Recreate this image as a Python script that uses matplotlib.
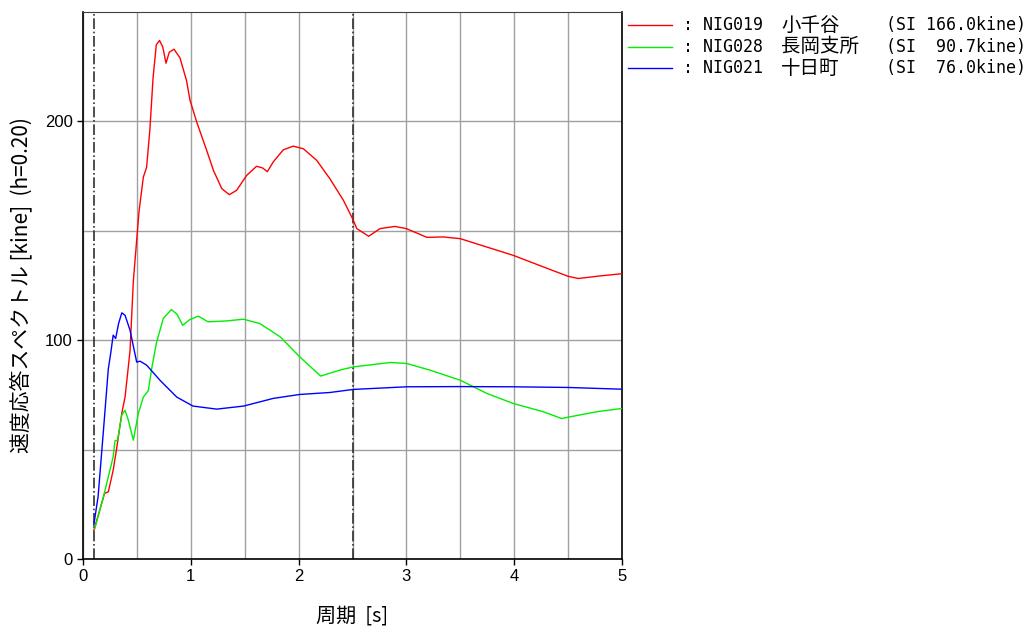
import matplotlib
matplotlib.use('Agg')
import matplotlib.pyplot as plt
from matplotlib.lines import Line2D

# velocity response spectra (h=0.20), period [s] vs Sv [kine]
red_x = [0.10, 0.20, 0.235, 0.28, 0.31, 0.36, 0.39, 0.436, 0.467, 0.52, 0.56, 0.59, 0.62,
         0.65, 0.68, 0.71, 0.74, 0.77, 0.80, 0.844, 0.90, 0.96, 0.993, 1.055, 1.147, 1.21,
         1.287, 1.357, 1.425, 1.518, 1.61, 1.667, 1.71, 1.765, 1.858, 1.95, 2.044, 2.168,
         2.29, 2.415, 2.50, 2.54, 2.65, 2.755, 2.894, 3.00, 3.19, 3.34, 3.50, 3.745, 3.99,
         4.27, 4.50, 4.595, 4.765, 5.00]
red_y = [13, 30, 30.7, 40.6, 49.8, 66.6, 74, 95, 127, 159, 174.6, 179, 196,
         220, 235, 237, 234, 226.6, 231.6, 233, 229, 218.7, 209.6, 199.7, 186.8, 177.6,
         169.3, 166.5, 168.5, 175.3, 179.5, 178.7, 177, 181.5, 187, 188.7, 187.5, 182.2,
         173.8, 164, 155.6, 151, 147.5, 151, 152, 151, 147, 147.2, 146.4, 142.6, 138.8,
         133.5, 129.2, 128.2, 129.2, 130.4]

green_x = [0.11, 0.19, 0.28, 0.297, 0.32, 0.36, 0.39, 0.42, 0.467, 0.513, 0.56, 0.606,
           0.637, 0.68, 0.745, 0.82, 0.87, 0.925, 0.99, 1.07, 1.16, 1.33, 1.49, 1.64,
           1.83, 2.01, 2.205, 2.38, 2.507, 2.85, 3.00, 3.22, 3.50, 3.745, 3.99, 4.27,
           4.44, 4.52, 4.765, 5.00]
green_y = [14, 28.5, 46.7, 54, 54.3, 65.8, 68, 63.5, 54.3, 66.5, 74, 77,
           87, 98.5, 110, 114, 112, 106.8, 109.4, 111, 108.4, 108.8, 109.6, 107.6,
           101.5, 92.4, 83.6, 86.3, 87.8, 89.8, 89.4, 86.3, 81.7, 75.7, 71.1, 67.3,
           64.2, 65, 67.3, 68.8]

blue_x = [0.10, 0.14, 0.19, 0.235, 0.257, 0.28, 0.303, 0.33, 0.36, 0.39, 0.436, 0.498,
          0.53, 0.59, 0.714, 0.87, 1.02, 1.24, 1.49, 1.765, 2.01, 2.29, 2.507, 3.00,
          3.50, 3.99, 4.50, 5.00]
blue_y = [15.5, 28.5, 59, 87, 94, 102.3, 100.8, 107.6, 112.5, 111.4, 104.6, 90,
          90.4, 88.6, 81.7, 74, 69.9, 68.5, 69.9, 73.4, 75.2, 76.1, 77.5, 78.7,
          78.8, 78.7, 78.4, 77.6]

codes = ['NIG019', 'NIG028', 'NIG021']
names = ['小千谷', '長岡支所', '十日町']
si_values = [166.0, 90.7, 76.0]
colors = ['#ff0000', '#00ee00', '#0000ff']

jp = ['Noto Sans CJK JP', 'DejaVu Sans']
mono = ['DejaVu Sans Mono', 'Noto Sans CJK JP']

fig = plt.figure(figsize=(10.26, 6.31), dpi=100)
ax = fig.add_axes([83 / 1026, 72 / 631, 539 / 1026, 547 / 631])

for xs, ys, c in zip([red_x, green_x, blue_x], [red_y, green_y, blue_y], colors):
    ax.plot(xs, ys, color=c, linewidth=1.0, zorder=3)

ax.set_xlim(0, 5)
ax.set_ylim(0, 250)
ax.set_xticks([0, 1, 2, 3, 4, 5])
ax.set_xticks([0.5, 1.5, 2.5, 3.5, 4.5], minor=True)
ax.set_yticks([0, 100, 200])
ax.set_yticks([50, 150], minor=True)
ax.grid(which='both', color='#a0a0a0', linewidth=1.0, zorder=1)
ax.tick_params(which='major', direction='out', length=4, width=1,
               labelsize=12, colors='black')
ax.tick_params(which='minor', length=0)
for lab in ax.get_xticklabels() + ax.get_yticklabels():
    lab.set_family('Liberation Sans')

# reference periods
for xv in [0.1, 2.5]:
    ax.axvline(xv, color='#303030', linestyle='-.', linewidth=1.2, zorder=2)

for side in ['left', 'bottom', 'right']:
    ax.spines[side].set_color('black')
    ax.spines[side].set_linewidth(1.2)
ax.spines['top'].set_color('#404040')

ax.set_xlabel('周期  [s]', family=jp, fontsize=14.5, labelpad=15)
ax.set_ylabel('速度応答スペクトル [kine]  (h=0.20)', family=jp, fontsize=15,
              labelpad=9)

# legend drawn by hand so the columns line up
for i in range(3):
    y = 1 - (25 + 21.5 * i) / 631
    fig.add_artist(Line2D([628 / 1026, 672 / 1026], [y, y], color=colors[i],
                          linewidth=1.0, transform=fig.transFigure))
    fig.text(683 / 1026, y, ': ' + codes[i], family=mono, fontsize=12, va='center')
    fig.text(781 / 1026, y, names[i], family=jp, fontsize=14, va='center')
    fig.text(886 / 1026, y, '(SI %5.1fkine)' % si_values[i], family=mono,
             fontsize=12, va='center')

fig.savefig('out.png', dpi=100)
